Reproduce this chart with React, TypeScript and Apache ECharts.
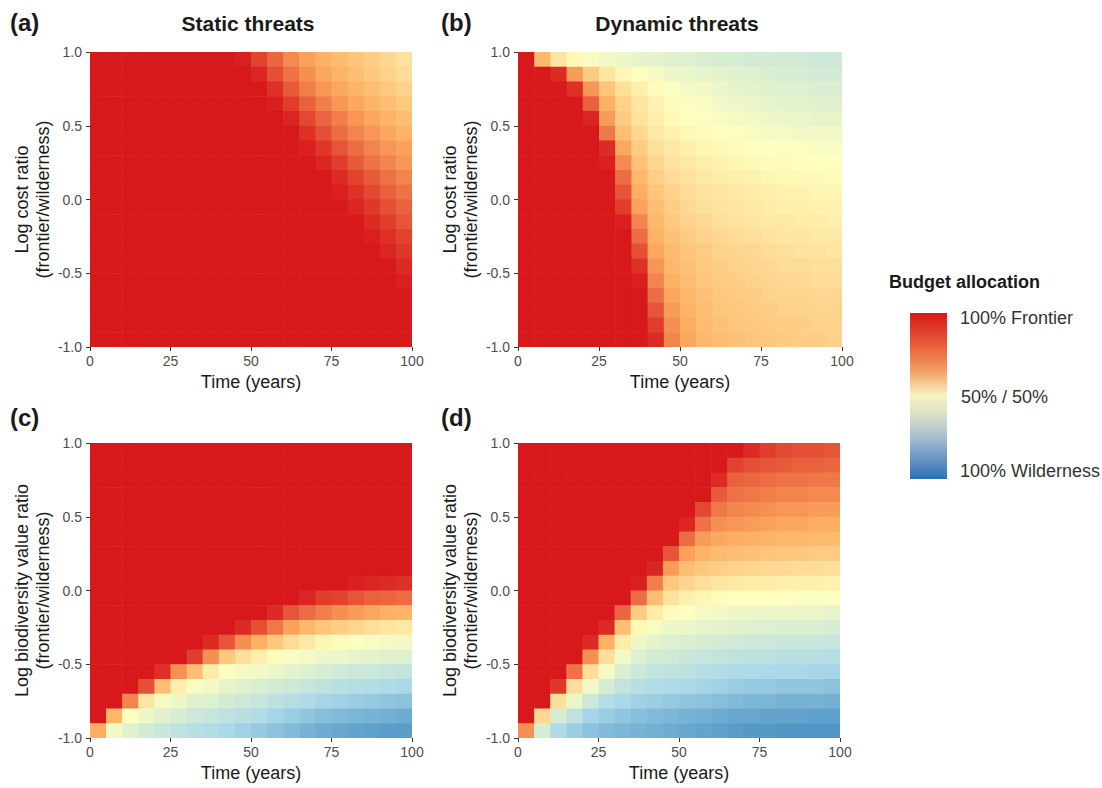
import React, { useEffect, useRef } from "react";
import * as echarts from "echarts";

// ---- data: share of budget to frontier (%) ; rows top (ratio 0.95) -> bottom (ratio -0.95), columns time 2.5 -> 97.5
const timeCenters = [2.5, 7.5, 12.5, 17.5, 22.5, 27.5, 32.5, 37.5, 42.5, 47.5, 52.5, 57.5, 62.5, 67.5, 72.5, 77.5, 82.5, 87.5, 92.5, 97.5];
const ratioCenters = [0.95, 0.85, 0.75, 0.65, 0.55, 0.45, 0.35, 0.25, 0.15, 0.05, -0.05, -0.15, -0.25, -0.35, -0.45, -0.55, -0.65, -0.75, -0.85, -0.95];
const timeTicks = [0, 25, 50, 75, 100];
const ratioTicks = [-1, -0.5, 0, 0.5, 1];

const staticCost = [
  [100, 100, 100, 100, 100, 100, 100, 100, 100, 99, 93, 87, 81, 77, 74, 71, 68, 65, 62, 59],
  [100, 100, 100, 100, 100, 100, 100, 100, 100, 100, 98, 91, 85, 80, 76, 73, 70, 67, 64, 61],
  [100, 100, 100, 100, 100, 100, 100, 100, 100, 100, 100, 96, 89, 83, 79, 76, 73, 70, 67, 64],
  [100, 100, 100, 100, 100, 100, 100, 100, 100, 100, 100, 99, 94, 88, 83, 79, 76, 73, 70, 67],
  [100, 100, 100, 100, 100, 100, 100, 100, 100, 100, 100, 100, 98, 92, 87, 83, 79, 76, 73, 70],
  [100, 100, 100, 100, 100, 100, 100, 100, 100, 100, 100, 100, 100, 96, 91, 86, 82, 79, 76, 73],
  [100, 100, 100, 100, 100, 100, 100, 100, 100, 100, 100, 100, 100, 99, 95, 90, 86, 82, 79, 77],
  [100, 100, 100, 100, 100, 100, 100, 100, 100, 100, 100, 100, 100, 100, 98, 94, 89, 85, 82, 79],
  [100, 100, 100, 100, 100, 100, 100, 100, 100, 100, 100, 100, 100, 100, 100, 97, 93, 89, 85, 82],
  [100, 100, 100, 100, 100, 100, 100, 100, 100, 100, 100, 100, 100, 100, 100, 99, 96, 92, 88, 85],
  [100, 100, 100, 100, 100, 100, 100, 100, 100, 100, 100, 100, 100, 100, 100, 100, 98, 95, 91, 88],
  [100, 100, 100, 100, 100, 100, 100, 100, 100, 100, 100, 100, 100, 100, 100, 100, 100, 97, 94, 90],
  [100, 100, 100, 100, 100, 100, 100, 100, 100, 100, 100, 100, 100, 100, 100, 100, 100, 99, 96, 93],
  [100, 100, 100, 100, 100, 100, 100, 100, 100, 100, 100, 100, 100, 100, 100, 100, 100, 100, 98, 95],
  [100, 100, 100, 100, 100, 100, 100, 100, 100, 100, 100, 100, 100, 100, 100, 100, 100, 100, 100, 97],
  [100, 100, 100, 100, 100, 100, 100, 100, 100, 100, 100, 100, 100, 100, 100, 100, 100, 100, 100, 99],
  [100, 100, 100, 100, 100, 100, 100, 100, 100, 100, 100, 100, 100, 100, 100, 100, 100, 100, 100, 100],
  [100, 100, 100, 100, 100, 100, 100, 100, 100, 100, 100, 100, 100, 100, 100, 100, 100, 100, 100, 100],
  [100, 100, 100, 100, 100, 100, 100, 100, 100, 100, 100, 100, 100, 100, 100, 100, 100, 100, 100, 100],
  [100, 100, 100, 100, 100, 100, 100, 100, 100, 100, 100, 100, 100, 100, 100, 100, 100, 100, 100, 100],
];

const dynamicCost = [
  [100, 72, 58, 52, 48, 46, 44, 43, 42, 41, 40, 39, 38, 38, 37, 37, 36, 36, 35, 35],
  [100, 100, 97, 78, 66, 58, 53, 50, 47, 45, 44, 43, 42, 41, 40, 39, 38, 38, 37, 37],
  [100, 100, 100, 96, 79, 68, 60, 55, 51, 49, 47, 46, 44, 43, 42, 41, 40, 40, 39, 39],
  [100, 100, 100, 100, 88, 74, 64, 58, 54, 51, 49, 48, 46, 45, 44, 43, 42, 42, 41, 41],
  [100, 100, 100, 100, 98, 78, 66, 59, 55, 52, 50, 49, 48, 47, 46, 45, 44, 44, 43, 43],
  [100, 100, 100, 100, 100, 84, 70, 62, 57, 54, 52, 51, 50, 49, 48, 47, 47, 46, 46, 46],
  [100, 100, 100, 100, 100, 97, 76, 66, 60, 57, 55, 53, 52, 51, 50, 50, 49, 49, 48, 48],
  [100, 100, 100, 100, 100, 99, 81, 69, 63, 59, 57, 55, 54, 53, 52, 51, 51, 50, 50, 50],
  [100, 100, 100, 100, 100, 100, 86, 72, 65, 61, 59, 57, 56, 55, 54, 53, 52, 52, 52, 51],
  [100, 100, 100, 100, 100, 100, 90, 75, 68, 64, 61, 59, 58, 57, 56, 55, 54, 54, 53, 53],
  [100, 100, 100, 100, 100, 100, 94, 77, 70, 65, 62, 60, 59, 58, 57, 56, 55, 55, 54, 54],
  [100, 100, 100, 100, 100, 100, 99, 82, 72, 67, 64, 62, 60, 59, 58, 57, 57, 56, 56, 55],
  [100, 100, 100, 100, 100, 100, 100, 86, 74, 69, 66, 64, 62, 61, 60, 59, 58, 58, 57, 57],
  [100, 100, 100, 100, 100, 100, 100, 91, 76, 71, 68, 66, 64, 63, 62, 61, 60, 59, 59, 58],
  [100, 100, 100, 100, 100, 100, 100, 96, 79, 72, 69, 67, 65, 64, 63, 62, 61, 61, 60, 60],
  [100, 100, 100, 100, 100, 100, 100, 99, 82, 74, 70, 68, 66, 65, 64, 63, 62, 62, 61, 61],
  [100, 100, 100, 100, 100, 100, 100, 100, 86, 76, 72, 69, 67, 66, 65, 64, 63, 63, 62, 62],
  [100, 100, 100, 100, 100, 100, 100, 100, 90, 78, 73, 70, 68, 67, 66, 65, 64, 64, 63, 63],
  [100, 100, 100, 100, 100, 100, 100, 100, 94, 80, 75, 71, 69, 68, 67, 66, 65, 65, 64, 64],
  [100, 100, 100, 100, 100, 100, 100, 100, 97, 82, 76, 72, 70, 69, 68, 67, 66, 65, 65, 64],
];

const staticBiodiv = [
  [100, 100, 100, 100, 100, 100, 100, 100, 100, 100, 100, 100, 100, 100, 100, 100, 100, 100, 100, 100],
  [100, 100, 100, 100, 100, 100, 100, 100, 100, 100, 100, 100, 100, 100, 100, 100, 100, 100, 100, 100],
  [100, 100, 100, 100, 100, 100, 100, 100, 100, 100, 100, 100, 100, 100, 100, 100, 100, 100, 100, 100],
  [100, 100, 100, 100, 100, 100, 100, 100, 100, 100, 100, 100, 100, 100, 100, 100, 100, 100, 100, 100],
  [100, 100, 100, 100, 100, 100, 100, 100, 100, 100, 100, 100, 100, 100, 100, 100, 100, 100, 100, 100],
  [100, 100, 100, 100, 100, 100, 100, 100, 100, 100, 100, 100, 100, 100, 100, 100, 100, 100, 100, 100],
  [100, 100, 100, 100, 100, 100, 100, 100, 100, 100, 100, 100, 100, 100, 100, 100, 100, 100, 100, 100],
  [100, 100, 100, 100, 100, 100, 100, 100, 100, 100, 100, 100, 100, 100, 100, 100, 100, 100, 100, 100],
  [100, 100, 100, 100, 100, 100, 100, 100, 100, 100, 100, 100, 100, 100, 100, 100, 100, 100, 100, 100],
  [100, 100, 100, 100, 100, 100, 100, 100, 100, 100, 100, 100, 100, 100, 100, 100, 99, 98, 97, 96],
  [100, 100, 100, 100, 100, 100, 100, 100, 100, 100, 100, 100, 100, 98, 94, 93, 90, 88, 87, 86],
  [100, 100, 100, 100, 100, 100, 100, 100, 100, 100, 100, 97, 90, 86, 83, 80, 78, 76, 74, 73],
  [100, 100, 100, 100, 100, 100, 100, 100, 100, 97, 91, 84, 77, 72, 68, 65, 63, 60, 58, 57],
  [100, 100, 100, 100, 100, 100, 100, 97, 90, 80, 74, 67, 61, 57, 53, 51, 49, 48, 47, 46],
  [100, 100, 100, 100, 100, 100, 94, 80, 67, 60, 55, 51, 48, 47, 45, 44, 43, 42, 41, 40],
  [100, 100, 100, 100, 96, 80, 70, 56, 49, 47, 46, 44, 42, 40, 38, 36, 35, 34, 33, 32],
  [100, 100, 100, 91, 70, 55, 48, 46, 43, 41, 39, 37, 35, 33, 31, 29, 28, 27, 26, 25],
  [100, 100, 82, 58, 47, 45, 41, 40, 37, 35, 33, 30, 28, 26, 24, 23, 22, 21, 20, 19],
  [100, 72, 50, 45, 41, 38, 35, 33, 31, 29, 27, 24, 22, 20, 18, 17, 16, 15, 14, 13],
  [75, 46, 41, 37, 34, 31, 29, 27, 25, 23, 21, 19, 17, 15, 13, 12, 11, 10, 9, 9],
];

const dynamicBiodiv = [
  [100, 100, 100, 100, 100, 100, 100, 100, 100, 100, 100, 100, 100, 100, 97, 94, 92, 91, 91, 90],
  [100, 100, 100, 100, 100, 100, 100, 100, 100, 100, 100, 100, 100, 93, 91, 90, 89, 88, 88, 87],
  [100, 100, 100, 100, 100, 100, 100, 100, 100, 100, 100, 100, 97, 88, 87, 86, 85, 85, 84, 84],
  [100, 100, 100, 100, 100, 100, 100, 100, 100, 100, 100, 100, 89, 85, 84, 83, 82, 82, 81, 81],
  [100, 100, 100, 100, 100, 100, 100, 100, 100, 100, 100, 92, 84, 82, 81, 80, 79, 79, 78, 78],
  [100, 100, 100, 100, 100, 100, 100, 100, 100, 100, 98, 85, 80, 79, 78, 77, 76, 76, 75, 75],
  [100, 100, 100, 100, 100, 100, 100, 100, 100, 100, 86, 78, 76, 75, 74, 73, 72, 72, 71, 71],
  [100, 100, 100, 100, 100, 100, 100, 100, 100, 90, 77, 73, 71, 70, 69, 68, 67, 67, 66, 66],
  [100, 100, 100, 100, 100, 100, 100, 100, 98, 78, 70, 67, 65, 64, 63, 62, 62, 61, 61, 60],
  [100, 100, 100, 100, 100, 100, 100, 99, 83, 67, 63, 60, 58, 57, 56, 56, 55, 55, 55, 54],
  [100, 100, 100, 100, 100, 100, 100, 86, 70, 59, 55, 53, 51, 50, 50, 50, 50, 49, 49, 49],
  [100, 100, 100, 100, 100, 100, 87, 66, 56, 51, 49, 47, 46, 45, 45, 44, 44, 44, 44, 43],
  [100, 100, 100, 100, 100, 97, 70, 52, 48, 45, 44, 43, 42, 41, 40, 40, 39, 39, 39, 38],
  [100, 100, 100, 100, 97, 74, 56, 45, 42, 40, 39, 38, 37, 36, 35, 35, 34, 34, 34, 33],
  [100, 100, 100, 100, 80, 60, 46, 40, 37, 36, 34, 33, 32, 31, 30, 30, 29, 29, 29, 28],
  [100, 100, 100, 85, 60, 47, 39, 35, 32, 31, 30, 28, 27, 26, 26, 25, 25, 25, 24, 24],
  [100, 100, 95, 60, 46, 38, 32, 29, 27, 26, 25, 24, 23, 22, 21, 21, 20, 20, 20, 19],
  [100, 100, 60, 44, 35, 28, 25, 23, 22, 21, 20, 19, 18, 17, 16, 16, 15, 15, 15, 14],
  [100, 62, 38, 31, 24, 22, 20, 18, 17, 16, 15, 14, 13, 12, 12, 11, 11, 11, 10, 10],
  [80, 38, 26, 22, 19, 17, 16, 15, 14, 13, 12, 11, 10, 9, 8, 8, 7, 7, 7, 7],
];

// ---- styling / layout
const FONT = "'Liberation Sans', Arial, Helvetica, sans-serif";
const PALETTE = ["#2c7bb6", "#abd9e9", "#ffffbf", "#fdae61", "#d7191c"]; // 0% -> 100% frontier
const LEGEND_STOPS = [
  { offset: 0, color: "#d7191c" },
  { offset: 0.2, color: "#e8603c" },
  { offset: 0.35, color: "#f2a064" },
  { offset: 0.5, color: "#f8f4c0" },
  { offset: 0.62, color: "#d7dec8" },
  { offset: 0.75, color: "#a5bece" },
  { offset: 0.87, color: "#6e96c3" },
  { offset: 1, color: "#2c72b4" },
];
const HALF_T = 2.5;
const HALF_R = 0.05;

function hexToRgb(h: string) {
  const n = parseInt(h.slice(1), 16);
  return [(n >> 16) & 255, (n >> 8) & 255, n & 255];
}
const PAL_RGB = PALETTE.map(hexToRgb);
function colorFor(pct: number) {
  const v = Math.max(0, Math.min(1, pct / 100)) * (PAL_RGB.length - 1);
  const i = Math.min(PAL_RGB.length - 2, Math.floor(v));
  const f = v - i;
  const a = PAL_RGB[i];
  const b = PAL_RGB[i + 1];
  const c = a.map((x, k) => Math.round(x + (b[k] - x) * f));
  return `rgb(${c[0]},${c[1]},${c[2]})`;
}

const panelDefs = [
  { rows: staticCost, grid: { left: 90, top: 52, width: 322, height: 295 } },
  { rows: dynamicCost, grid: { left: 518, top: 52, width: 324, height: 295 } },
  { rows: staticBiodiv, grid: { left: 90, top: 443, width: 322, height: 295 } },
  { rows: dynamicBiodiv, grid: { left: 518, top: 443, width: 322, height: 295 } },
];

function buildOption() {
  const grids: any[] = [];
  const xAxes: any[] = [];
  const yAxes: any[] = [];
  const series: any[] = [];
  panelDefs.forEach((p, idx) => {
    grids.push({ ...p.grid, containLabel: false });
    xAxes.push({
      type: "value",
      gridIndex: idx,
      min: timeTicks[0],
      max: timeTicks[timeTicks.length - 1],
      interval: timeTicks[1] - timeTicks[0],
      axisLine: { show: false, onZero: false },
      axisTick: { show: true, length: 4, lineStyle: { color: "#333333", width: 1 } },
      splitLine: { show: false },
      axisPointer: { show: false },
      axisLabel: { color: "#4d4d4d", fontSize: 14, fontFamily: FONT, margin: 7 },
      name: "Time (years)",
      nameLocation: "middle",
      nameGap: 26,
      nameTextStyle: { color: "#1a1a1a", fontSize: 18, fontFamily: FONT },
    });
    yAxes.push({
      type: "value",
      gridIndex: idx,
      min: ratioTicks[0],
      max: ratioTicks[ratioTicks.length - 1],
      interval: ratioTicks[1] - ratioTicks[0],
      axisLine: { show: false, onZero: false },
      axisTick: { show: true, length: 4, lineStyle: { color: "#333333", width: 1 } },
      splitLine: { show: false },
      axisPointer: { show: false },
      axisLabel: {
        color: "#4d4d4d",
        fontSize: 14,
        fontFamily: FONT,
        margin: 8,
        formatter: (v: number) => v.toFixed(1),
      },
    });
    const data: number[][] = [];
    p.rows.forEach((row, r) => {
      row.forEach((val, c) => {
        data.push([timeCenters[c], ratioCenters[r], val]);
      });
    });
    series.push({
      type: "custom",
      xAxisIndex: idx,
      yAxisIndex: idx,
      silent: true,
      clip: true,
      encode: { x: 0, y: 1 },
      data,
      renderItem: (params: any, api: any) => {
        const t = api.value(0);
        const y = api.value(1);
        const v = api.value(2);
        const p1 = api.coord([t - HALF_T, y + HALF_R]);
        const p2 = api.coord([t + HALF_T, y - HALF_R]);
        return {
          type: "rect",
          shape: { x: p1[0], y: p1[1], width: p2[0] - p1[0] + 0.6, height: p2[1] - p1[1] + 0.6 },
          style: { fill: colorFor(v), stroke: null },
        };
      },
    });
  });

  const txt = (x: number, y: number, text: string, size: number, bold: boolean, align = "left", color = "#1a1a1a", rot = 0) => ({
    type: "text",
    x,
    y,
    rotation: rot,
    silent: true,
    style: {
      text,
      fill: color,
      font: `${bold ? "bold " : ""}${size}px ${FONT}`,
      textAlign: align,
      textVerticalAlign: "middle",
    },
  });

  const graphic: any[] = [
    txt(10, 22, "(a)", 24, true),
    txt(248, 23, "Static threats", 21, true, "center"),
    txt(441, 22, "(b)", 24, true),
    txt(677, 23, "Dynamic threats", 21, true, "center"),
    txt(10, 417, "(c)", 24, true),
    txt(441, 417, "(d)", 24, true),
    txt(22, 199.5, "Log cost ratio", 18, false, "center", "#1a1a1a", Math.PI / 2),
    txt(43, 199.5, "(frontier/wilderness)", 18, false, "center", "#1a1a1a", Math.PI / 2),
    txt(450, 199.5, "Log cost ratio", 18, false, "center", "#1a1a1a", Math.PI / 2),
    txt(471, 199.5, "(frontier/wilderness)", 18, false, "center", "#1a1a1a", Math.PI / 2),
    txt(22, 590.5, "Log biodiversity value ratio", 18, false, "center", "#1a1a1a", Math.PI / 2),
    txt(43, 590.5, "(frontier/wilderness)", 18, false, "center", "#1a1a1a", Math.PI / 2),
    txt(450, 590.5, "Log biodiversity value ratio", 18, false, "center", "#1a1a1a", Math.PI / 2),
    txt(471, 590.5, "(frontier/wilderness)", 18, false, "center", "#1a1a1a", Math.PI / 2),
    txt(889, 282, "Budget allocation", 18, true),
    {
      type: "rect",
      silent: true,
      shape: { x: 910, y: 313, width: 37, height: 166 },
      style: {
        fill: { type: "linear", x: 0, y: 0, x2: 0, y2: 1, colorStops: LEGEND_STOPS },
      },
    },
    txt(960, 318, "100% Frontier", 18, false, "left", "#333333"),
    txt(961, 397, "50% / 50%", 18, false, "left", "#333333"),
    txt(960, 471, "100% Wilderness", 18, false, "left", "#333333"),
  ];

  return {
    animation: false,
    backgroundColor: "#ffffff",
    tooltip: { show: false },
    grid: grids,
    xAxis: xAxes,
    yAxis: yAxes,
    series,
    graphic,
  };
}

export default function App() {
  const ref = useRef<HTMLDivElement>(null);
  useEffect(() => {
    if (!ref.current) return;
    const chart = echarts.init(ref.current, null, { renderer: "svg" });
    chart.setOption(buildOption() as any);
    return () => chart.dispose();
  }, []);
  return <div ref={ref} style={{ position: "absolute", left: 0, top: 0, width: 1102, height: 788 }} />;
}
